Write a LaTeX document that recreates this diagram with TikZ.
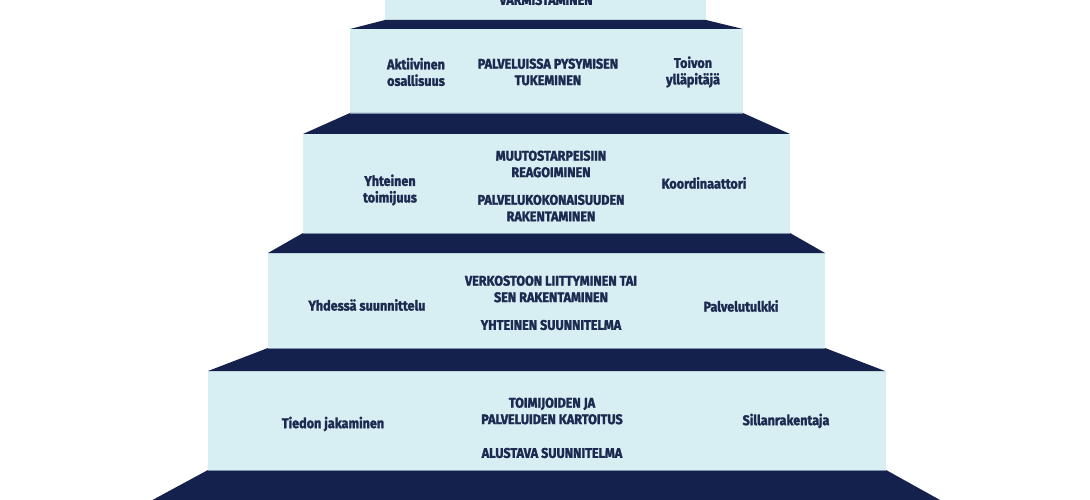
\documentclass[tikz,border=0pt]{standalone}
\usepackage{fontspec}
\setmainfont{Fira Sans}[FakeStretch=0.9, BoldFeatures={FakeBold=1.8}]
\definecolor{navy}{HTML}{13214C}
\definecolor{pale}{HTML}{D7EEF2}
\definecolor{ink}{HTML}{1B2A50}
\definecolor{edge}{HTML}{7E93AE}
\tikzset{
  tread/.style={fill=navy, draw=none},
  riser/.style={fill=pale, draw=none},
  seam/.style={draw=edge, line width=1pt},
  lbl/.style={text=ink, font=\bfseries\fontsize{14}{16.5}\selectfont, align=center, inner sep=0pt},
}
\begin{document}
\begin{tikzpicture}[x=1pt,y=-1pt]
\useasboundingbox[fill=white] (0,0) rectangle (1090,500);
% risers (light boxes)
\fill[riser] (385,-12) rectangle (706,20);
\fill[riser] (350,29) rectangle (743,113);
\fill[riser] (303,134) rectangle (790,233);
\fill[riser] (268,253) rectangle (825,348);
\fill[riser] (208,371) rectangle (886,470);
% treads (dark bands)
\fill[tread] (385,20) -- (706,20) -- (743,29) -- (350,29) -- cycle;
\fill[tread] (350,113) -- (743,113) -- (790,134) -- (303,134) -- cycle;
\fill[tread] (303,233) -- (790,233) -- (825,253) -- (268,253) -- cycle;
\fill[tread] (268,348) -- (825,348) -- (885,371) -- (208,371) -- cycle;
\fill[tread] (208,470) -- (886,470) -- (958,510) -- (134,510) -- cycle;
% seams
\draw[seam] (350,113.5) -- (743,113.5);
\draw[seam] (303,233.5) -- (790,233.5);
\draw[seam] (268,348.5) -- (825,348.5);
\draw[seam] (208,470.5) -- (886,470.5);
% step 6 (top, cut off)
\node[lbl] (t6) at (546,0) {VARMISTAMINEN};
% step 5
\node[lbl] (l5) at (416,72) {Aktiivinen\\osallisuus};
\node[lbl] (c5) at (548,72) {PALVELUISSA PYSYMISEN\\TUKEMINEN};
\node[lbl] (r5) at (693,72) {Toivon\\ylläpitäjä};
% step 4
\node[lbl] (l4) at (390,190) {Yhteinen\\toimijuus};
\node[lbl] (c4a) at (551,164) {MUUTOSTARPEISIIN\\REAGOIMINEN};
\node[lbl] (c4b) at (551,208) {PALVELUKOKONAISUUDEN\\RAKENTAMINEN};
\node[lbl] (r4) at (704,183) {Koordinaattori};
% step 3
\node[lbl] (l3) at (367,305) {Yhdessä suunnittelu};
\node[lbl] (c3a) at (551,289) {VERKOSTOON LIITTYMINEN TAI\\SEN RAKENTAMINEN};
\node[lbl] (c3b) at (551,325) {YHTEINEN SUUNNITELMA};
\node[lbl] (r3) at (741,306) {Palvelutulkki};
% step 2
\node[lbl] (l2) at (333,424) {Tiedon jakaminen};
\node[lbl] (c2a) at (552,411) {TOIMIJOIDEN JA\\PALVELUIDEN KARTOITUS};
\node[lbl] (c2b) at (552,453) {ALUSTAVA SUUNNITELMA};
\node[lbl] (r2) at (786,421) {Sillanrakentaja};
\end{tikzpicture}
\end{document}
